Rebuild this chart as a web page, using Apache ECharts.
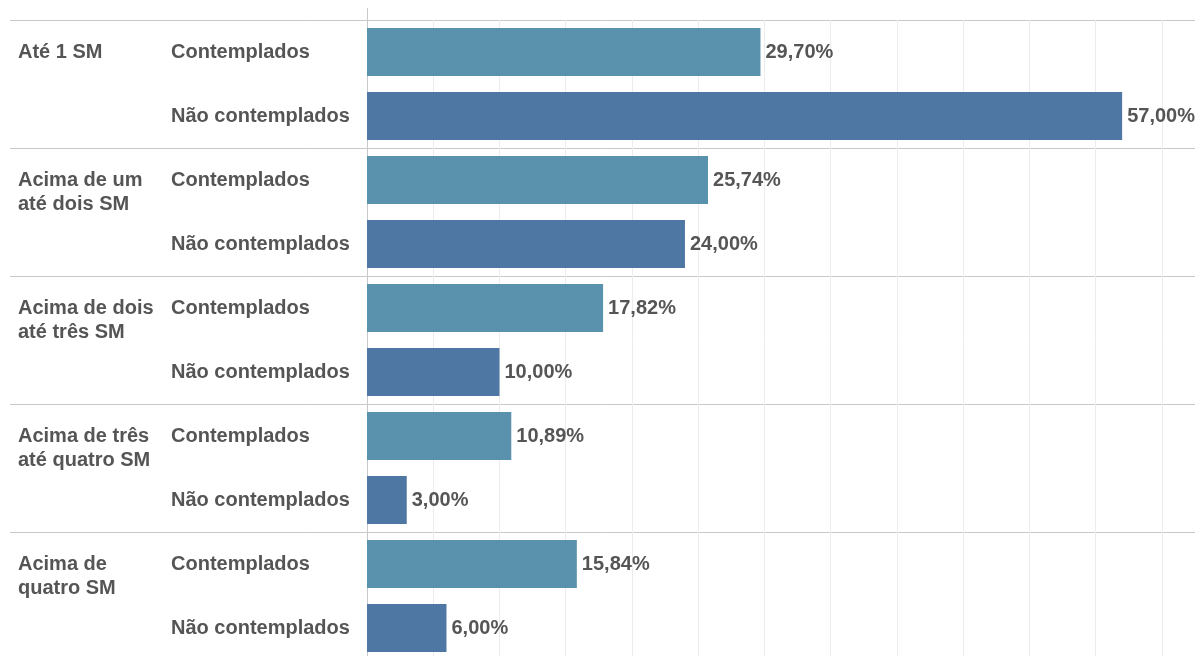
<!DOCTYPE html>
<html>
<head>
<meta charset="utf-8">
<script src="https://cdn.jsdelivr.net/npm/echarts@6/dist/echarts.min.js"></script>
<style>
html,body{margin:0;padding:0;background:#fff;}
#chart{width:1195px;height:656px;}
</style>
</head>
<body>
<div id="chart"></div>
<script>
const groups = ['Até 1 SM', 'Acima de um\naté dois SM', 'Acima de dois\naté três SM', 'Acima de três\naté quatro SM', 'Acima de\nquatro SM'];
const subcats = ['Contemplados', 'Não contemplados'];
const contemplados = [29.70, 25.74, 17.82, 10.89, 15.84];
const naoContemplados = [57.00, 24.00, 10.00, 3.00, 6.00];
const colors = ['#5a92ae', '#4e77a3'];

const rows = [], values = [], rowGroup = [], rowSub = [];
groups.forEach((g, gi) => {
  [contemplados[gi], naoContemplados[gi]].forEach((v, si) => {
    rows.push(gi + '-' + si);
    values.push({ value: v, itemStyle: { color: colors[si] } });
    rowGroup.push(si === 0 ? gi : -1);
    rowSub.push(si);
  });
});

const font = 'Liberation Sans, Arial, sans-serif';
const txt = '#555555';

const chart = echarts.init(document.getElementById('chart'));
chart.setOption({
  animation: false,
  grid: [
    { left: 367, right: 0, top: 20, height: 640, containLabel: false, outerBoundsMode: 'none' },
    { left: 10, right: 0, top: 20, height: 640, containLabel: false, outerBoundsMode: 'none' }
  ],
  xAxis: [
    { gridIndex: 0, type: 'value', min: 0, max: 62.5, interval: 5,
      axisLabel: { show: false }, axisLine: { show: false }, axisTick: { show: false },
      splitLine: { show: true, lineStyle: { color: '#ececec', width: 1 } } },
    { gridIndex: 1, type: 'value', min: 0, max: 1, show: false }
  ],
  yAxis: [
    { gridIndex: 0, type: 'category', position: 'left', data: rows, inverse: true,
      axisLine: { show: true, lineStyle: { color: '#c8c8c8' } }, axisTick: { show: false },
      splitLine: { show: false },
      axisLabel: { margin: 196, align: 'left', fontFamily: font, fontWeight: 'bold', fontSize: 20, color: txt,
        formatter: (v, i) => subcats[rowSub[i]] } },
    { gridIndex: 0, type: 'category', position: 'left', offset: 0, data: rows, inverse: true,
      axisLine: { show: false }, axisTick: { show: false }, splitLine: { show: false },
      axisLabel: { margin: 349, align: 'left', fontFamily: font, fontWeight: 'bold', fontSize: 20, color: txt, lineHeight: 24,
        formatter: (v, i) => {
          const gi = rowGroup[i];
          if (gi < 0) return '';
          const g = groups[gi];
          return g.indexOf('\n') >= 0 ? '\n' + g : g;
        } } },
    { gridIndex: 1, type: 'category', data: groups, inverse: true,
      axisLine: { show: false }, axisTick: { show: false }, axisLabel: { show: false },
      splitLine: { show: true, lineStyle: { color: '#c8c8c8', width: 1 } } }
  ],
  graphic: [
    { type: 'line', shape: { x1: 367.5, y1: 8, x2: 367.5, y2: 20 }, style: { stroke: '#c8c8c8', lineWidth: 1 } }
  ],
  series: [
    { type: 'bar', xAxisIndex: 0, yAxisIndex: 0, data: values, barWidth: 48,
      label: { show: true, position: 'right', distance: 5, fontFamily: font, fontWeight: 'bold', fontSize: 20, color: txt,
        formatter: p => p.value.toFixed(2).replace('.', ',') + '%' } }
  ]
});
</script>
</body>
</html>
